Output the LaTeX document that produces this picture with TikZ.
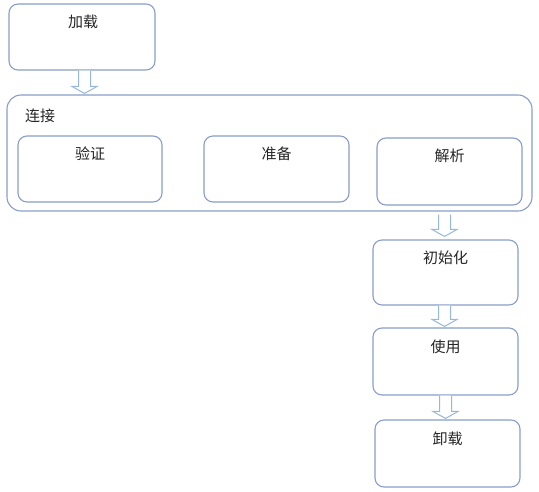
\documentclass[tikz,border=0pt]{standalone}
\usepackage{fontspec}
\newfontfamily\cjk{Noto Sans CJK SC}
\usetikzlibrary{calc}
\definecolor{boxline}{RGB}{138,158,200}
\definecolor{arrline}{RGB}{150,184,220}
\tikzset{
  box/.style={draw=boxline, line width=1.1pt, rounded corners=9pt, fill=white, inner sep=0pt},
  lbl/.style={anchor=north, inner sep=0pt, font=\cjk\fontsize{15}{17}\selectfont, text=black!85},
  harrow/.style={draw=arrline, line width=1pt, fill=white, line join=miter},
}
\newcommand\hollowarrow[2]{%
  \draw[harrow] let \p1=(#1), \p2=(#2) in
    (\x1-6,\y1) -- (\x1-6,\y2+7) -- (\x1-12.5,\y2+7) -- (\x1,\y2)
    -- (\x1+12.5,\y2+7) -- (\x1+6,\y2+7) -- (\x1+6,\y1);}
\begin{document}
\begin{tikzpicture}[x=1pt,y=-1pt]
\useasboundingbox (0,0) rectangle (539,492);
% load
\node[box, minimum width=146pt, minimum height=66pt] (load) at (82,37) {};
\node[lbl] (loadt) at ($(load.north)+(1,11.5)$) {加载};
% linking outer
\node[box, minimum width=525pt, minimum height=116pt, rounded corners=14pt] (conn) at (269.5,153) {};
\node[lbl] (connt) at (40,108.5) {连接};
\node[box, minimum width=144pt, minimum height=66pt] (verify) at (90,169) {};
\node[lbl] (verifyt) at ($(verify.north)+(0,11.5)$) {验证};
\node[box, minimum width=145pt, minimum height=66pt] (prep) at (276.5,169) {};
\node[lbl] (prept) at ($(prep.north)+(0,11.5)$) {准备};
\node[box, minimum width=145pt, minimum height=67pt] (parse) at (449.5,171.5) {};
\node[lbl] (parset) at ($(parse.north)+(0,11)$) {解析};
% init
\node[box, minimum width=145pt, minimum height=65pt] (init) at (445.5,272.5) {};
\node[lbl] (initt) at ($(init.north)+(0,11.5)$) {初始化};
% use
\node[box, minimum width=145pt, minimum height=67pt] (use) at (445.5,361.5) {};
\node[lbl] (uset) at ($(use.north)+(0,12)$) {使用};
% unload
\node[box, minimum width=145pt, minimum height=67pt] (unload) at (447.5,453.5) {};
\node[lbl] (unloadt) at ($(unload.north)+(0,12)$) {卸载};
% arrows
\coordinate (a1s) at ($(load.south)+(2.5,0)$);
\coordinate (a1e) at ($(a1s |- conn.north)+(0,-1)$);
\hollowarrow{a1s}{a1e}
\coordinate (a2s) at ($(init.north |- conn.south)+(-1,3)$);
\coordinate (a2e) at ($(init.north)+(-1,-3)$);
\hollowarrow{a2s}{a2e}
\coordinate (a3s) at ($(init.south)+(-1,0)$);
\coordinate (a3e) at ($(use.north)+(-1,-1)$);
\hollowarrow{a3s}{a3e}
\coordinate (a4s) at ($(use.south)+(0,0)$);
\coordinate (a4e) at ($(use.south |- unload.north)+(0,-1)$);
\hollowarrow{a4s}{a4e}
\end{tikzpicture}
\end{document}
